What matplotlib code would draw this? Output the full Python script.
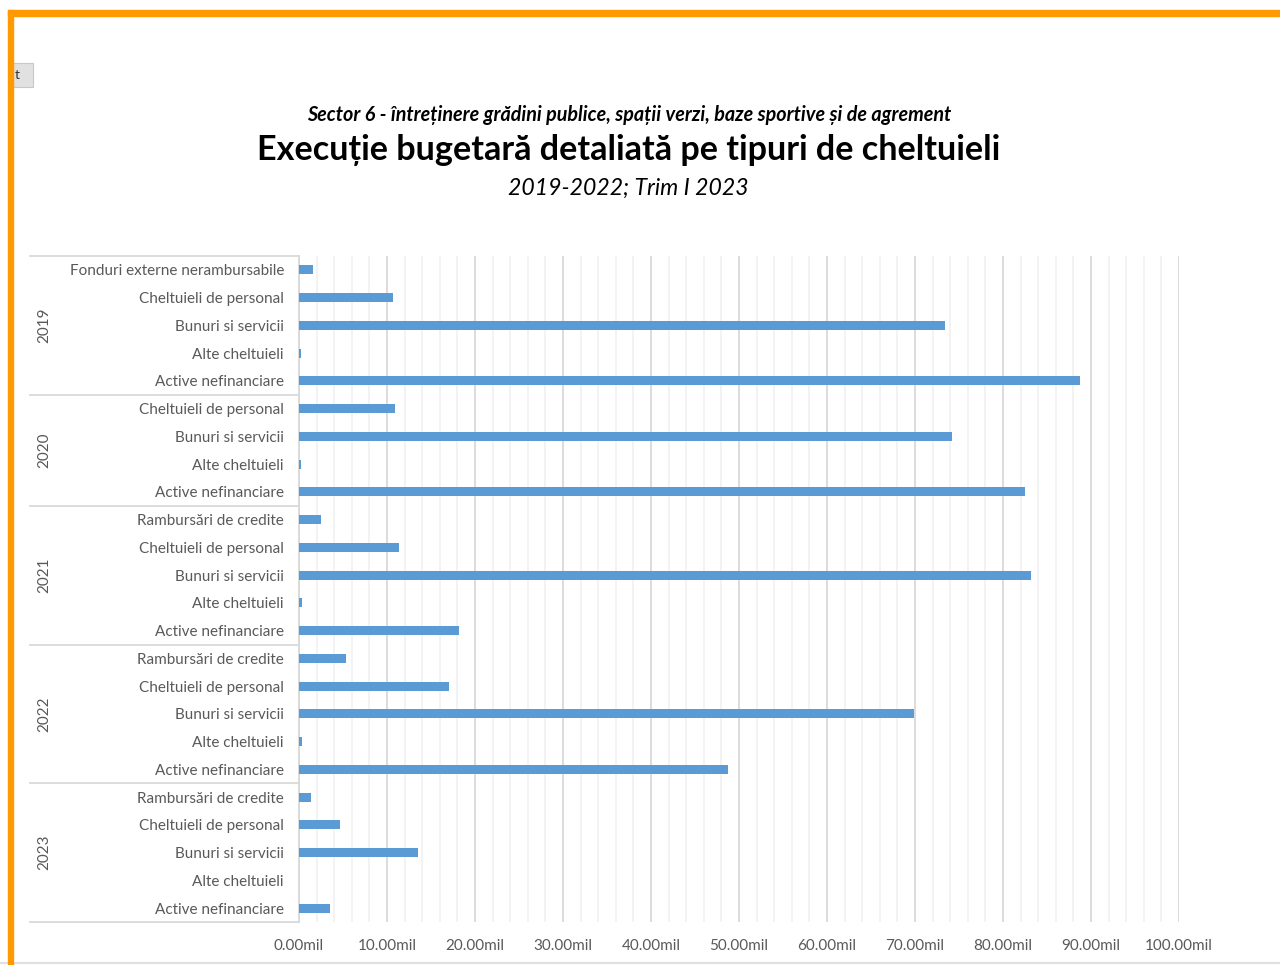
import matplotlib.pyplot as plt
import matplotlib.transforms as mtransforms
from matplotlib.patches import Rectangle
from matplotlib.lines import Line2D

plt.rcParams['font.family'] = ['Lato', 'DejaVu Sans']

# date: executie bugetara pe ani (milioane lei), de sus in jos
years = ["2019", "2020", "2021", "2022", "2023"]
categories = [
    ["Fonduri externe nerambursabile", "Cheltuieli de personal", "Bunuri si servicii",
     "Alte cheltuieli", "Active nefinanciare"],
    ["Cheltuieli de personal", "Bunuri si servicii", "Alte cheltuieli", "Active nefinanciare"],
    ["Rambursări de credite", "Cheltuieli de personal", "Bunuri si servicii",
     "Alte cheltuieli", "Active nefinanciare"],
    ["Rambursări de credite", "Cheltuieli de personal", "Bunuri si servicii",
     "Alte cheltuieli", "Active nefinanciare"],
    ["Rambursări de credite", "Cheltuieli de personal", "Bunuri si servicii",
     "Alte cheltuieli", "Active nefinanciare"],
]
values = [
    [1.6, 10.7, 73.4, 0.2, 88.75],
    [10.9, 74.2, 0.2, 82.5],
    [2.5, 11.4, 83.2, 0.35, 18.2],
    [5.3, 17.0, 69.9, 0.35, 48.75],
    [1.35, 4.65, 13.5, 0.05, 3.5],
]
x_ticks = [0, 10, 20, 30, 40, 50, 60, 70, 80, 90, 100]

W, H = 1280, 965
fig = plt.figure(figsize=(W / 100, H / 100), dpi=100)

def px(x, y):
    return x / W, 1 - y / H

# chenar portocaliu + buton
fig.patches.append(Rectangle(px(8, 16), 1, 6 / H, transform=fig.transFigure,
                             color='#FF9900', zorder=5))
fig.patches.append(Rectangle(px(8, H), 5 / W, (H - 10) / H, transform=fig.transFigure,
                             color='#FF9900', zorder=5))
fig.patches.append(Rectangle(px(13, 87), 20 / W, 24 / H, transform=fig.transFigure,
                             facecolor='#E1E1E1', edgecolor='#C8C8C8', lw=0.8, zorder=4))
fig.text(*px(17, 75), "t", fontsize=10, color='#333333', va='center', ha='center', zorder=6)
fig.lines.append(Line2D([0, 1], [1 - 963 / H] * 2, transform=fig.transFigure,
                        color='#E0E0E0', lw=1.5))

# titluri
fig.text(*px(629, 115), "Sector 6 - întreținere grădini publice, spații verzi, baze sportive și de agrement",
         ha='center', va='center', fontsize=14.2, fontweight='bold', style='italic', color='black')
fig.text(*px(629, 150), "Execuție bugetară detaliată pe tipuri de cheltuieli",
         ha='center', va='center', fontsize=24.6, fontweight='bold', color='black')
fig.text(*px(628, 188), "2019-2022; Trim I 2023",
         ha='center', va='center', fontsize=16.6, style='italic', color='black')

left, right, top, bottom = 299, 1179, 256, 922
ax = fig.add_axes([left / W, 1 - bottom / H, (right - left) / W, (bottom - top) / H])

labels, vals, bounds = [], [], [-0.5]
for cats, v in zip(categories, values):
    labels += cats
    vals += v
    bounds.append(len(labels) - 0.5)
pos = list(range(len(labels)))

ax.barh(pos, vals, height=0.33, color='#5B9BD5', zorder=3)
ax.set_ylim(len(labels) - 0.5, -0.5)
ax.set_xlim(0, 100)

ax.set_xticks(x_ticks)
ax.set_xticklabels([f"{t:.2f}mil" for t in x_ticks])
ax.set_xticks([i for i in range(0, 101, 2)], minor=True)
ax.grid(axis='x', which='major', color='#D9D9D9', lw=1.3, zorder=1)
ax.grid(axis='x', which='minor', color='#F2F2F2', lw=1.3, zorder=0)
ax.set_yticks(pos)
ax.set_yticklabels(labels)
ax.tick_params(axis='y', length=0, pad=10.8, labelsize=11, labelcolor='#595959')
ax.tick_params(axis='x', which='both', length=0, pad=12.5, labelsize=11, labelcolor='#595959')
for s in ['top', 'right', 'bottom']:
    ax.spines[s].set_visible(False)
ax.spines['left'].set_color('#D9D9D9')
ax.spines['left'].set_linewidth(1.3)

# axa de categorii pe ani
trans = mtransforms.blended_transform_factory(fig.transFigure, ax.transData)
for b in bounds:
    ax.add_line(Line2D([30 / W, left / W], [b, b], transform=trans, color='#D9D9D9',
                       lw=1.3, clip_on=False))
for i, y in enumerate(years):
    mid = (bounds[i] + bounds[i + 1]) / 2
    ax.text(44 / W, mid, y, transform=trans, rotation=90, ha='center', va='center',
            fontsize=11, color='#595959')

fig.savefig("out.png", dpi=100)
